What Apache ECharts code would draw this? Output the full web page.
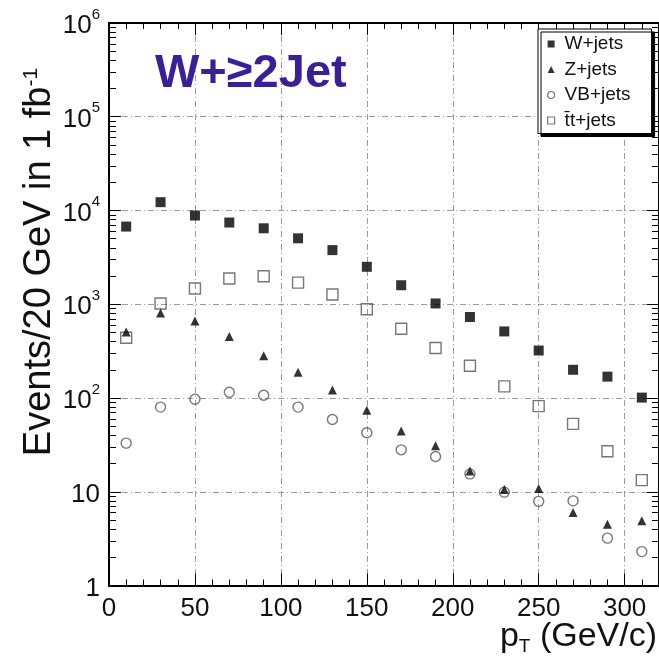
<!DOCTYPE html>
<html>
<head>
<meta charset="utf-8">
<script src="https://cdn.jsdelivr.net/npm/echarts@6/dist/echarts.min.js"></script>
<style>
  html, body { margin: 0; padding: 0; background: #fff; }
  #chart { width: 659px; height: 661px; }
</style>
</head>
<body>
<div id="chart"></div>
<script>
// 20 GeV bins in pT, events per bin for 1 fb^-1
const binCenters = [10, 30, 50, 70, 90, 110, 130, 150, 170, 190, 210, 230, 250, 270, 290, 310];
const wJets  = [6740, 12270, 8840, 7440, 6460, 5050, 3780, 2510, 1595, 1020, 731, 513, 321, 200, 169, 101];
const zJets  = [505, 807, 662, 453, 283, 188, 122, 74, 44.5, 31, 16.6, 10.6, 10.8, 6.0, 4.5, 4.9];
const vbJets = [33, 80, 97, 115, 107, 80, 59, 42.6, 28, 23.8, 15.5, 9.9, 7.9, 8.0, 3.2, 2.3];
const ttJets = [439, 1020, 1470, 1880, 1990, 1700, 1270, 883, 548, 342, 221, 133, 82, 53, 27, 13.3];

const seriesNames = ['W+jets', 'Z+jets', 'VB+jets', 't\u0304t+jets'];

// axis ticks
const xMajorTicks = [0, 50, 100, 150, 200, 250, 300];
const xMinorStep = 10;
const yDecades = [1, 10, 100, 1000, 10000, 100000, 1000000];

const xMinorTicks = [];
for (let v = 0; v <= 320; v += xMinorStep) xMinorTicks.push(v);
const yMinorTicks = [];
for (let i = 0; i < yDecades.length - 1; i++) {
  for (let k = 2; k <= 9; k++) yMinorTicks.push(yDecades[i] * k);
}

const FONT = '"Liberation Sans", Arial, Helvetica, sans-serif';
const X_MIN = 0, X_MAX = 320, Y_MIN = 1, Y_MAX = 1e6;

const pairs = (vals) => binCenters.map((x, i) => [x, vals[i]]);

const gridLine = { show: true, lineStyle: { color: '#9a9a9a', width: 1, type: [6, 3, 1, 3] } };

function xAxisDef(position, ticks, len, withLine, withLabels, withSplit) {
  return {
    type: 'value', position: position, min: X_MIN, max: X_MAX,
    axisLine: { show: withLine, onZero: false, lineStyle: { color: '#000', width: 2 } },
    axisTick: { show: true, inside: true, length: len, customValues: ticks, lineStyle: { color: '#000', width: 1 } },
    axisLabel: withLabels ? {
      show: true, customValues: xMajorTicks, margin: 10, color: '#111',
      fontFamily: FONT, fontSize: 26
    } : { show: false },
    splitLine: withSplit ? gridLine : { show: false }
  };
}

function yAxisDef(position, ticks, len, withLine, withLabels, withSplit) {
  return {
    type: 'log', logBase: 10, position: position, min: Y_MIN, max: Y_MAX,
    axisLine: { show: withLine, onZero: false, lineStyle: { color: '#000', width: 2 } },
    axisTick: { show: true, inside: true, length: len, customValues: ticks, lineStyle: { color: '#000', width: 1 } },
    axisLabel: withLabels ? {
      show: true, customValues: yDecades, margin: 9, color: '#111',
      formatter: function (v) {
        const e = Math.round(Math.log10(v));
        if (e === 0) return '{b|1}';
        if (e === 1) return '{b|10}';
        return '{b|10}{s|' + e + '}';
      },
      rich: {
        b: { fontFamily: FONT, fontSize: 26, lineHeight: 32, verticalAlign: 'bottom', color: '#111' },
        s: { fontFamily: FONT, fontSize: 15, lineHeight: 16, verticalAlign: 'top', color: '#111' }
      }
    } : { show: false },
    splitLine: withSplit ? gridLine : { show: false }
  };
}

const openStyle = { color: 'rgba(0,0,0,0)', borderColor: '#555', borderWidth: 1.4 };

const option = {
  animation: false,
  backgroundColor: '#fff',
  grid: { left: 109, top: 23, width: 551, height: 562.5, containLabel: false },
  xAxis: [
    xAxisDef('bottom', xMajorTicks, 12, true, true, true),
    xAxisDef('bottom', xMinorTicks, 6, false, false, false),
    xAxisDef('top', xMajorTicks, 12, true, false, false),
    xAxisDef('top', xMinorTicks, 6, false, false, false)
  ],
  yAxis: [
    yAxisDef('left', yDecades, 12, true, true, true),
    yAxisDef('left', yMinorTicks, 7, false, false, false),
    yAxisDef('right', yDecades, 12, true, false, false),
    yAxisDef('right', yMinorTicks, 7, false, false, false)
  ],
  legend: {
    orient: 'vertical', left: 538, top: 29,
    padding: [5, 21, 3, 9],
    itemWidth: 7, itemHeight: 7, itemGap: 5.5,
    backgroundColor: '#fff', borderColor: '#000', borderWidth: 1,
    shadowColor: '#000', shadowOffsetX: 3, shadowOffsetY: 3, shadowBlur: 0,
    textStyle: { fontFamily: FONT, fontSize: 19, lineHeight: 20, color: '#111', padding: [0, 0, 0, 5] },
    data: [
      { name: seriesNames[0], icon: 'rect', itemStyle: { color: '#000', borderWidth: 0 } },
      { name: seriesNames[1], icon: 'triangle', itemStyle: { color: '#000', borderWidth: 0 } },
      { name: seriesNames[2], icon: 'circle', itemStyle: { color: 'rgba(0,0,0,0)', borderColor: '#555', borderWidth: 1.2 } },
      { name: seriesNames[3], icon: 'rect', itemStyle: { color: 'rgba(0,0,0,0)', borderColor: '#555', borderWidth: 1.2 } }
    ]
  },
  graphic: [
    {
      type: 'text', x: 155, y: 74, z: 10,
      style: {
        text: 'W+\u22652Jet', fontFamily: FONT, fontWeight: 'bold', fontSize: 47,
        fill: '#3b1f98', textVerticalAlign: 'middle', textAlign: 'left'
      }
    },
    {
      type: 'text', x: 40, y: 262, rotation: Math.PI / 2, z: 10,
      style: {
        text: 'Events/20 GeV in 1 fb{s|-1}', fontFamily: FONT, fontSize: 38, fill: '#111',
        align: 'center', verticalAlign: 'middle',
        rich: {
          s: { fontFamily: FONT, fontSize: 21, verticalAlign: 'top', lineHeight: 20, fill: '#111' }
        }
      }
    },
    {
      type: 'text', x: 657, y: 637, z: 10,
      style: {
        text: 'p{t|T} (GeV/c)', fontFamily: FONT, fontSize: 34, fill: '#111',
        align: 'right', verticalAlign: 'middle', lineHeight: 38,
        rich: {
          t: { fontFamily: FONT, fontSize: 19, verticalAlign: 'bottom', lineHeight: 14, fill: '#111' }
        }
      }
    }
  ],
  series: [
    { name: seriesNames[0], type: 'scatter', data: pairs(wJets), symbol: 'rect', symbolSize: 10,
      itemStyle: { color: '#000' }, z: 4 },
    { name: seriesNames[1], type: 'scatter', data: pairs(zJets), symbol: 'triangle', symbolSize: 9,
      itemStyle: { color: '#000' }, z: 4 },
    { name: seriesNames[2], type: 'scatter', data: pairs(vbJets), symbol: 'circle', symbolSize: 10,
      itemStyle: openStyle, z: 3 },
    { name: seriesNames[3], type: 'scatter', data: pairs(ttJets), symbol: 'rect', symbolSize: 11,
      itemStyle: openStyle, z: 3 }
  ]
};

const chart = echarts.init(document.getElementById('chart'), null, { renderer: 'canvas' });
chart.setOption(option);
</script>
</body>
</html>
